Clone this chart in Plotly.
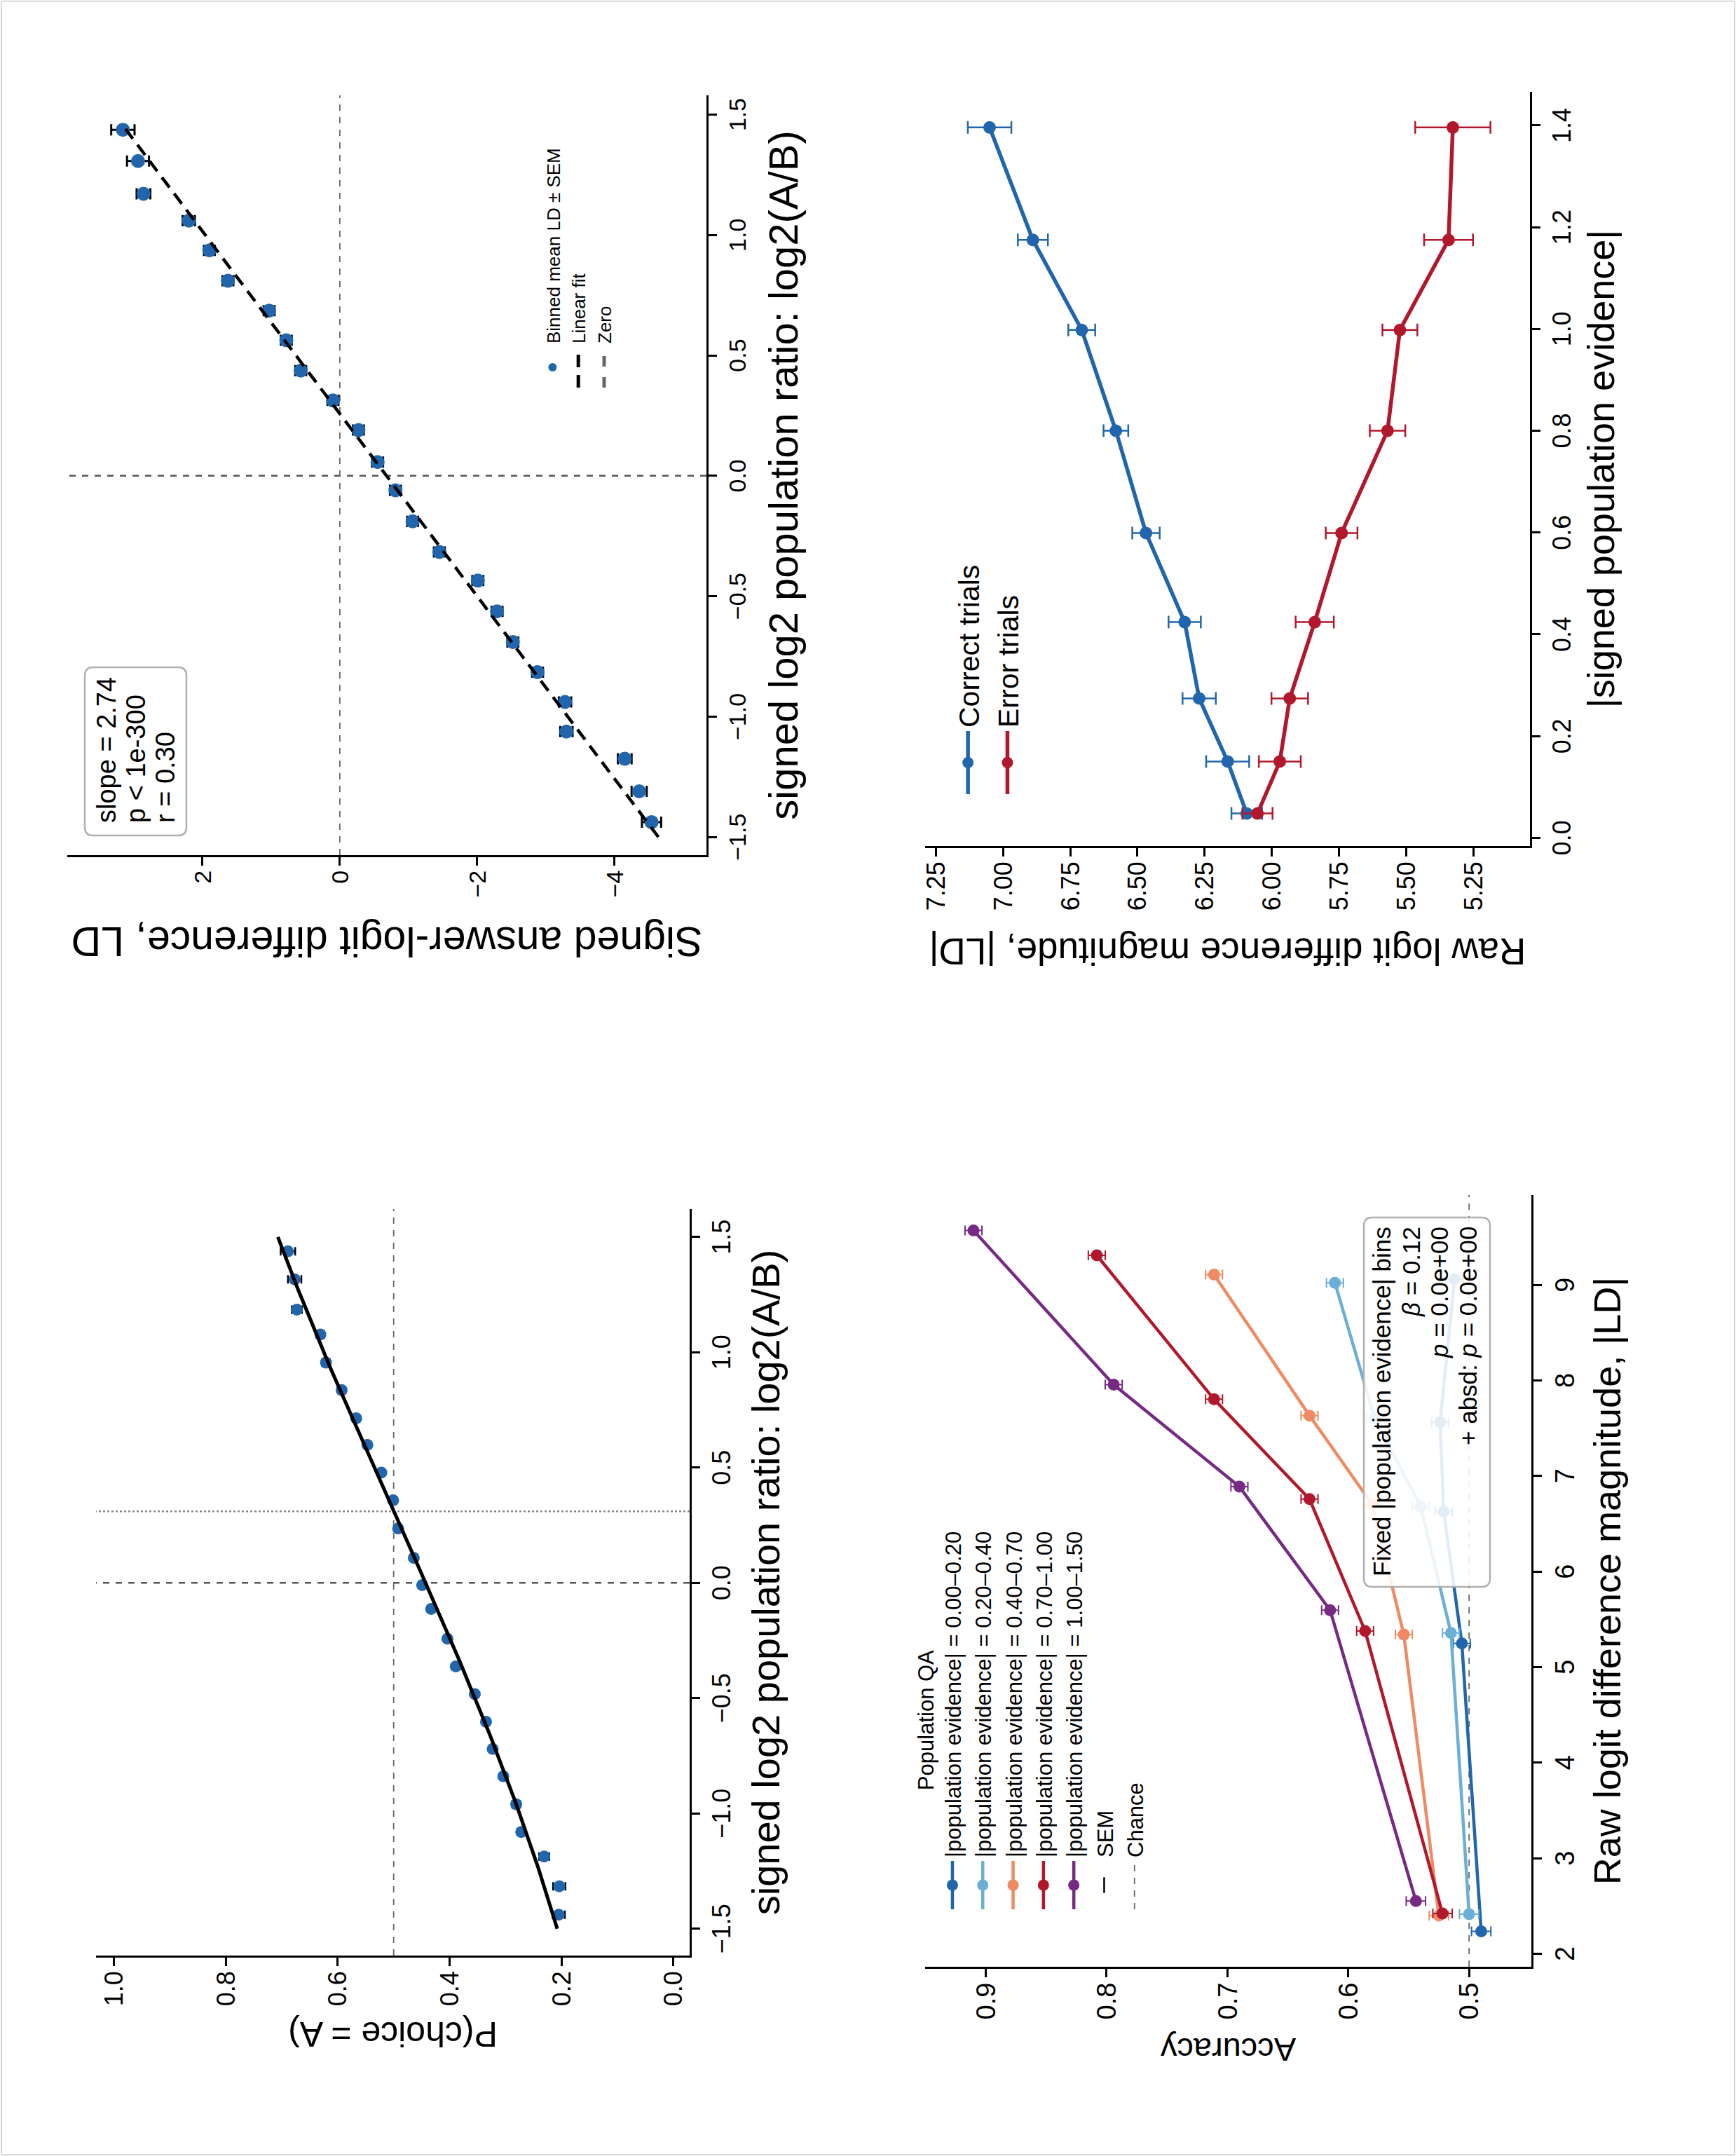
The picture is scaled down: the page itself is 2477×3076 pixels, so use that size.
import numpy as np
import plotly.graph_objects as go

W, H = 3076, 2477          # figure drawn in its natural (landscape) orientation
FONT = "Liberation Sans, Arial, Helvetica, sans-serif"

# ---------------- Panel 1: P(choice = A) vs signed log2 ratio ----------------
pchoice_log2 = [-1.439, -1.316, -1.187, -1.080, -0.960, -0.839, -0.720, -0.602, -0.482,
                -0.362, -0.242, -0.113, -0.010, 0.108, 0.236, 0.358, 0.478, 0.598,
                0.714, 0.836, 0.955, 1.077, 1.185, 1.316, 1.438]
pchoice_mean = [0.205, 0.204, 0.231, 0.272, 0.281, 0.304, 0.323, 0.335, 0.355,
                0.389, 0.404, 0.433, 0.449, 0.464, 0.492, 0.501, 0.522, 0.547,
                0.567, 0.593, 0.621, 0.631, 0.673, 0.677, 0.689]
pchoice_sem = [0.011, 0.011, 0.009, 0.007, 0.007, 0.006, 0.006, 0.006, 0.006,
               0.006, 0.006, 0.006, 0.006, 0.006, 0.006, 0.006, 0.006, 0.006,
               0.006, 0.006, 0.007, 0.007, 0.009, 0.012, 0.013]
psych_slope = 0.74
psych_pse = 0.31
psych_range = [-1.5, 1.5]

# ---------------- Panel 2: signed LD vs signed log2 ratio ----------------
ld_log2 = [-1.438, -1.310, -1.175, -1.062, -0.939, -0.815, -0.690, -0.563, -0.435,
           -0.316, -0.189, -0.060, 0.057, 0.190, 0.313, 0.437, 0.563, 0.686,
           0.810, 0.936, 1.060, 1.171, 1.307, 1.437]
ld_mean = [-4.54, -4.36, -4.15, -3.30, -3.28, -2.88, -2.52, -2.29, -2.01,
           -1.45, -1.06, -0.81, -0.55, -0.27, 0.10, 0.57, 0.78, 1.03,
           1.63, 1.90, 2.20, 2.86, 2.94, 3.16]
ld_sem = [0.14, 0.11, 0.10, 0.09, 0.09, 0.08, 0.08, 0.08, 0.08,
          0.08, 0.08, 0.08, 0.08, 0.08, 0.08, 0.08, 0.08, 0.08,
          0.08, 0.08, 0.09, 0.10, 0.16, 0.17]
ld_fit_slope = 2.64
ld_fit_intercept = -0.68
ld_fit_range = [-1.5, 1.44]
ld_stats_lines = ["slope = 2.74", "p &lt; 1e-300", "r = 0.30"]

# ---------------- Panel 3: accuracy vs |LD| by evidence bin ----------------
acc_names = ["|population evidence| = 0.00\u20130.20",
             "|population evidence| = 0.20\u20130.40",
             "|population evidence| = 0.40\u20130.70",
             "|population evidence| = 0.70\u20131.00",
             "|population evidence| = 1.00\u20131.50"]
acc_colors = ["#2166ac", "#6baed6", "#ef8a62", "#b2182b", "#762a83"]
acc_ld_g1 = [2.235, 5.247, 6.626, 7.562, 9.06]
acc_y_g1 = [0.490, 0.506, 0.521, 0.524, 0.512]
acc_ld_g2 = [2.415, 5.357, 6.680, 7.600, 9.022]
acc_y_g2 = [0.500, 0.515, 0.540, 0.578, 0.611]
acc_ld_g3 = [2.400, 5.340, 6.700, 7.632, 9.107]
acc_y_g3 = [0.525, 0.554, 0.580, 0.632, 0.711]
acc_ld_g4 = [2.421, 5.378, 6.758, 7.803, 9.309]
acc_y_g4 = [0.522, 0.586, 0.632, 0.711, 0.808]
acc_ld_g5 = [2.552, 5.596, 6.888, 7.955, 9.570]
acc_y_g5 = [0.544, 0.615, 0.690, 0.794, 0.910]
acc_sem = [0.008, 0.007, 0.007, 0.007, 0.007]
acc_stats_lines = ["Fixed |population evidence| bins", "<i>\u03b2</i> = 0.12",
                   "<i>p</i> = 0.0e+00", "+ absd: <i>p</i> = 0.0e+00"]

# ---------------- Panel 4: |LD| vs |evidence|, correct vs error ----------------
ev_bins = [0.048, 0.150, 0.274, 0.424, 0.599, 0.800, 0.998, 1.175, 1.396]
absld_correct = [6.093, 6.164, 6.270, 6.324, 6.468, 6.580, 6.707, 6.889, 7.050]
absld_correct_sem = [0.057, 0.080, 0.062, 0.060, 0.051, 0.046, 0.050, 0.056, 0.081]
absld_error = [6.053, 5.970, 5.933, 5.840, 5.740, 5.569, 5.523, 5.342, 5.326]
absld_error_sem = [0.056, 0.078, 0.068, 0.071, 0.059, 0.066, 0.065, 0.091, 0.140]

BLUE = "#2166ac"
RED = "#b2182b"


def xdom(a, b):
    return [a / W, b / W]


def ydom(top, bottom):
    return [1 - bottom / H, 1 - top / H]


def px(x, y):
    return f"{x / W:.5f},{1 - y / H:.5f}"


def rounded_box(x0, y0, x1, y1, r=12):
    return ("M " + px(x0 + r, y0) + " L " + px(x1 - r, y0) + " Q " + px(x1, y0) + " " + px(x1, y0 + r)
            + " L " + px(x1, y1 - r) + " Q " + px(x1, y1) + " " + px(x1 - r, y1)
            + " L " + px(x0 + r, y1) + " Q " + px(x0, y1) + " " + px(x0, y1 - r)
            + " L " + px(x0, y0 + r) + " Q " + px(x0, y0) + " " + px(x0 + r, y0) + " Z")


fig = go.Figure()

# ---- panel 1 traces
fig.add_trace(go.Scatter(x=pchoice_log2, y=pchoice_mean, mode="markers",
                         marker=dict(color=BLUE, size=17),
                         error_y=dict(type="data", array=pchoice_sem, color="black",
                                      thickness=2.5, width=6),
                         xaxis="x", yaxis="y", showlegend=False))
xs = np.linspace(psych_range[0], psych_range[1], 120)
fig.add_trace(go.Scatter(x=xs, y=1 / (1 + np.exp(-psych_slope * (xs - psych_pse))),
                         mode="lines", line=dict(color="black", width=5),
                         xaxis="x", yaxis="y", showlegend=False))

# ---- panel 2 traces
fig.add_trace(go.Scatter(x=ld_log2, y=ld_mean, mode="markers",
                         marker=dict(color=BLUE, size=20),
                         error_y=dict(type="data", array=ld_sem, color="black",
                                      thickness=3, width=8),
                         name="Binned mean LD \u00b1 SEM",
                         xaxis="x2", yaxis="y2", legend="legend2"))
fx = np.array(ld_fit_range)
fig.add_trace(go.Scatter(x=fx, y=ld_fit_intercept + ld_fit_slope * fx, mode="lines",
                         line=dict(color="black", width=4.5, dash="18px,11px"),
                         name="Linear fit", xaxis="x2", yaxis="y2", legend="legend2"))

# ---- panel 3 traces
acc_ld = [acc_ld_g1, acc_ld_g2, acc_ld_g3, acc_ld_g4, acc_ld_g5]
acc_y = [acc_y_g1, acc_y_g2, acc_y_g3, acc_y_g4, acc_y_g5]
for name, col, xv, yv in zip(acc_names, acc_colors, acc_ld, acc_y):
    fig.add_trace(go.Scatter(x=xv, y=yv, mode="lines+markers", name=name,
                             line=dict(color=col, width=4.5),
                             marker=dict(color=col, size=17),
                             error_y=dict(type="data", array=acc_sem, color=col,
                                          thickness=2, width=7),
                             xaxis="x3", yaxis="y3", legend="legend"))
fig.add_trace(go.Scatter(x=[None], y=[None], mode="markers", name="SEM",
                         marker=dict(symbol="line-ew", size=22, color="black",
                                     line=dict(color="black", width=2.5)),
                         xaxis="x3", yaxis="y3", legend="legend"))

# ---- panel 4 traces
fig.add_trace(go.Scatter(x=ev_bins, y=absld_correct, mode="lines+markers",
                         name="Correct trials", line=dict(color=BLUE, width=5.5),
                         marker=dict(color=BLUE, size=18),
                         error_y=dict(type="data", array=absld_correct_sem, color=BLUE,
                                      thickness=2.5, width=9),
                         xaxis="x4", yaxis="y4", legend="legend3"))
fig.add_trace(go.Scatter(x=ev_bins, y=absld_error, mode="lines+markers",
                         name="Error trials", line=dict(color=RED, width=5.5),
                         marker=dict(color=RED, size=18),
                         error_y=dict(type="data", array=absld_error_sem, color=RED,
                                      thickness=2.5, width=9),
                         xaxis="x4", yaxis="y4", legend="legend3"))

# ---- reference lines, stat boxes, outer frame
shapes = [
    dict(type="line", xref="x", yref="y domain", x0=0, x1=0, y0=0, y1=1,
         line=dict(color="#555555", width=2.5, dash="dash"), layer="below"),
    dict(type="line", xref="x", yref="y domain", x0=psych_pse, x1=psych_pse, y0=0, y1=1,
         line=dict(color="#888888", width=2.5, dash="dot"), layer="below"),
    dict(type="line", xref="x domain", yref="y", x0=0, x1=1, y0=0.5, y1=0.5,
         line=dict(color="#666666", width=1.8, dash="dash"), layer="below"),
    dict(type="line", xref="x2", yref="y2 domain", x0=0, x1=0, y0=0, y1=1,
         line=dict(color="#555555", width=2.5, dash="dash"), layer="below"),
    dict(type="line", xref="x2 domain", yref="y2", x0=0, x1=1, y0=0, y1=0,
         line=dict(color="#666666", width=1.8, dash="dash"), layer="below",
         showlegend=True, name="Zero", legend="legend2"),
    dict(type="line", xref="x3 domain", yref="y3", x0=0, x1=1, y0=0.5, y1=0.5,
         line=dict(color="#666666", width=1.8, dash="dash"), layer="below",
         showlegend=True, name="Chance", legend="legend"),
    dict(type="path", xref="paper", yref="paper", path=rounded_box(1884, 121, 2124, 266),
         line=dict(color="#b0b0b0", width=2.5), fillcolor="white", layer="above"),
    dict(type="path", xref="paper", yref="paper", path=rounded_box(812, 1946, 1339, 2126),
         line=dict(color="#b0b0b0", width=2.5), fillcolor="rgba(255,255,255,0.88)",
         layer="above"),
    dict(type="rect", xref="paper", yref="paper", x0=0.0006, x1=0.9994, y0=0.0008, y1=0.9992,
         line=dict(color="#d6d6d6", width=2), fillcolor="rgba(0,0,0,0)", layer="below"),
]

annotations = []
for txt, yc in zip(ld_stats_lines, [152, 194, 236]):
    annotations.append(dict(xref="paper", yref="paper", x=1900 / W, y=1 - yc / H,
                            xanchor="left", yanchor="middle", text=txt, showarrow=False,
                            font=dict(size=38, family=FONT, color="black")))
for txt, yc in zip(acc_stats_lines, [1971, 2013, 2053, 2094]):
    annotations.append(dict(xref="paper", yref="paper", x=1328 / W, y=1 - yc / H,
                            xanchor="right", yanchor="middle", text=txt, showarrow=False,
                            font=dict(size=35, family=FONT, color="black")))


def axis(domain, anchor, rng, tickvals, ticktext, title, standoff, tsize=54, ksize=36):
    return dict(domain=domain, anchor=anchor, range=rng, tickmode="array",
                tickvals=tickvals, ticktext=ticktext, showline=True, linecolor="black",
                linewidth=3, ticks="outside", ticklen=12, tickwidth=2.5, tickcolor="black",
                tickfont=dict(size=ksize, color="black", family=FONT), showgrid=False,
                zeroline=False, automargin=False,
                title=dict(text=title, font=dict(size=tsize, color="black", family=FONT),
                           standoff=standoff))


def fmt(v, nd):
    s = f"{abs(v):.{nd}f}"
    return ("\u2212" + s) if v < 0 else s


log2_ticks = [-1.5, -1.0, -0.5, 0.0, 0.5, 1.0, 1.5]
p_ticks = [0.0, 0.2, 0.4, 0.6, 0.8, 1.0]
ld_ticks = [-4, -2, 0, 2]
acc_x_ticks = [2, 3, 4, 5, 6, 7, 8, 9]
acc_y_ticks = [0.5, 0.6, 0.7, 0.8, 0.9]
ev_ticks = [0.0, 0.2, 0.4, 0.6, 0.8, 1.0, 1.2, 1.4]
absld_ticks = [5.25, 5.5, 5.75, 6.0, 6.25, 6.5, 6.75, 7.0, 7.25]

legend_font = dict(family=FONT, color="black")

fig.update_layout(
    width=W, height=H, margin=dict(l=0, r=0, t=0, b=0), template="none",
    paper_bgcolor="white", plot_bgcolor="white",
    font=dict(family=FONT, color="black"),
    xaxis=axis(xdom(286, 1351), "y", [-1.616, 1.621], log2_ticks,
               [fmt(v, 1) for v in log2_ticks], "signed log2 population ratio: log2(A/B)",
               24, 56, 36),
    yaxis=axis(ydom(137, 984), "x", [-0.029, 1.032], p_ticks,
               [fmt(v, 1) for v in p_ticks], "P(choice = A)", 7, 50, 36),
    xaxis2=axis(xdom(1856, 2940), "y2", [-1.575, 1.58], log2_ticks,
                [fmt(v, 1) for v in log2_ticks], "signed log2 population ratio: log2(A/B)",
                28, 58, 34),
    yaxis2=axis(ydom(96, 1008), "x2", [-5.34, 3.97], ld_ticks,
                [fmt(v, 0) for v in ld_ticks], "Signed answer-logit difference, LD",
                23, 59, 34),
    xaxis3=axis(xdom(270, 1371), "y3", [1.864, 9.94], acc_x_ticks,
                [str(v) for v in acc_x_ticks], "Raw logit difference magnitude, |LD|",
                22, 54, 38),
    yaxis3=axis(ydom(1320, 2185), "x3", [0.4485, 0.950], acc_y_ticks,
                [fmt(v, 1) for v in acc_y_ticks], "Accuracy", 12, 47, 38),
    xaxis4=axis(xdom(1869, 2945), "y4", [-0.016, 1.466], ev_ticks,
                [fmt(v, 1) for v in ev_ticks], "|signed population evidence|",
                17, 54, 36),
    yaxis4=axis(ydom(1320, 2183), "x4", [5.039, 7.29], absld_ticks,
                [fmt(v, 2) for v in absld_ticks], "Raw logit difference magnitude, |LD|",
                23, 53, 36),
    legend=dict(x=347 / W, y=1 - 1292 / H, xanchor="left", yanchor="top",
                bgcolor="rgba(0,0,0,0)", borderwidth=0, font=dict(size=31, **legend_font),
                title=dict(text="Population QA", side="top center",
                           font=dict(size=31, **legend_font)),
                tracegroupgap=0, itemwidth=69),
    legend2=dict(x=2518 / W, y=1 - 765 / H, xanchor="left", yanchor="top",
                 bgcolor="rgba(0,0,0,0)", borderwidth=0, font=dict(size=26, **legend_font),
                 itemsizing="constant", itemwidth=58),
    legend3=dict(x=1938 / W, y=1 - 1348 / H, xanchor="left", yanchor="top",
                 bgcolor="rgba(0,0,0,0)", borderwidth=0, font=dict(size=41, **legend_font),
                 itemwidth=90),
    shapes=shapes,
    annotations=annotations,
)

# The reference image is this figure turned a quarter-turn counter-clockwise.
post = """
var gd = document.getElementById('{plot_id}');
document.documentElement.style.margin = '0';
document.documentElement.style.overflow = 'hidden';
document.body.style.margin = '0';
document.body.style.overflow = 'hidden';
gd.style.position = 'absolute';
gd.style.left = '0px';
gd.style.top = '0px';
gd.style.transformOrigin = '0 0';
gd.style.transform = 'translateY(3076px) rotate(-90deg)';
"""

fig.write_html("out.html", include_plotlyjs=True, full_html=True,
               config={"displayModeBar": False}, post_script=post)
